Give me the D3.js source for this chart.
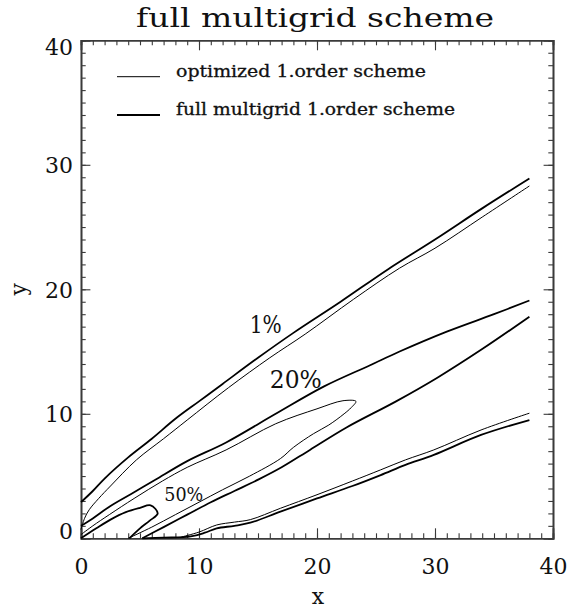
<!DOCTYPE html>
<html>
<head>
<meta charset="utf-8">
<script src="https://cdn.jsdelivr.net/npm/d3@7"></script>
<style>
  html, body { margin: 0; padding: 0; background: #fff; }
  svg { display: block; }
  text { font-family: "DejaVu Serif", "Liberation Serif", serif; fill: #111; }
</style>
</head>
<body>
<svg id="chart" width="568" height="615"></svg>
<script>
// Axis ticks
const xTickValues = [0, 10, 20, 30, 40];
const yTickValues = [0, 10, 20, 30, 40];
const minorTickValues = d3.range(0, 41, 1);

// Legend entries (thin = optimized, thick = full multigrid)
const legendLabels = ["optimized 1.order scheme", "full multigrid 1.order scheme"];

// Contour level labels: [text, x, y]
const levelLabels = [["1%", 14.3, 16.5], ["20%", 16.0, 12.05], ["50%", 7.06, 3.02]];

// Optimized 1.order scheme contours (thin lines)
const optUpper1 = [[0,0.7],[0.3,1.6],[0.7,2.3],[1.5,3.2],[2.5,4.2],[4.7,6.3],[7,8.0],[9,9.5],[12.5,12.1],[16,14.5],[19,16.4],[23.1,19.2],[27,21.7],[30,23.3],[34,25.8],[38,28.3]];
const optLower1 = [[8.5,0.1],[10,0.5],[11.5,1.07],[13,1.3],[14.35,1.5],[16.9,2.41],[20,3.5],[23,4.6],[25.4,5.5],[27.5,6.3],[29.9,7.1],[33.9,8.7],[38,10.05]];
const optLoop20 = [[0,0.3],[1,1.0],[2.4,1.9],[4.5,3.2],[6.9,4.6],[9,5.7],[12.3,7.1],[16.5,9.2],[20,10.4],[22.2,11.05],[23.3,11.0],[22.9,10.5],[22.3,10.0],[21,9.1],[19.7,8.4],[18,7.3],[16.9,6.4],[14.3,5.0],[12,3.9],[10,2.9],[8,1.9],[6,0.9],[4,0]];

// Full multigrid 1.order scheme contours (thick lines)
const fmgUpper1 = [[0,2.9],[1,3.8],[2,4.8],[4,6.5],[6,8.0],[8,9.6],[10,11.0],[12,12.4],[15,14.5],[18,16.5],[22,19.0],[26,21.6],[30,24.0],[34,26.5],[38,28.9]];
const fmgLower1 = [[5.2,0],[7,0.05],[9.3,0.15],[10.5,0.45],[11.5,0.8],[13,1.0],[14.35,1.25],[16.9,2.14],[20,3.2],[23,4.2],[25.4,5.08],[27.5,5.9],[29.9,6.7],[33.9,8.3],[38,9.5]];
const fmgUpper20 = [[0,1.0],[1,1.6],[2.5,2.6],[4.5,3.7],[6.3,4.7],[9,6.2],[12.3,7.7],[16.5,10.0],[20.6,12.2],[24.5,13.9],[27,15.0],[31,16.6],[35,18.0],[38,19.1]];
const fmgLower20 = [[5.2,0],[7,0.9],[9,1.9],[11,2.9],[13,3.8],[15.1,4.75],[17,5.7],[19.4,7.1],[22.5,8.9],[26.7,11.0],[30.2,12.9],[34,15.2],[38,17.8]];
const fmgLoop50 = [[0,0],[1.3,0.8],[2.5,1.5],[3.8,2.1],[5,2.45],[5.9,2.65],[6.5,2.0],[5.8,1.4],[5,0.8],[4.1,0]];

const optCurves = [optUpper1, optLower1, optLoop20];
const fmgCurves = [fmgUpper1, fmgLower1, fmgUpper20, fmgLower20, fmgLoop50];

const svg = d3.select("#chart");
const plotLeft = 81, plotRight = 553, plotTop = 40.3, plotBottom = 538.3;
const x = d3.scaleLinear().domain([0, 40]).range([plotLeft, plotRight]);
const y = d3.scaleLinear().domain([0, 40]).range([plotBottom, plotTop]);

const axisColor = "#3a3a3a";

// Title
svg.append("text")
  .attr("x", (plotLeft + plotRight) / 2 - 2)
  .attr("y", 26.7)
  .attr("text-anchor", "middle")
  .attr("font-size", 26)
  .attr("textLength", 358)
  .attr("lengthAdjust", "spacingAndGlyphs")
  .text("full multigrid scheme");

// Axes: major + minor ticks pointing inward on all four sides
function styleAxis(g) {
  g.select(".domain").attr("stroke", axisColor).attr("stroke-width", 1.6);
  g.selectAll(".tick line").attr("stroke", axisColor).attr("stroke-width", 1.1);
}

const gx = svg.append("g").attr("transform", `translate(0,${plotBottom})`)
  .call(d3.axisBottom(x).tickValues(xTickValues).tickSize(-10).tickPadding(20).tickFormat(d3.format("d")));
svg.append("g").attr("transform", `translate(0,${plotBottom})`)
  .call(d3.axisBottom(x).tickValues(minorTickValues).tickSize(-5).tickFormat("")).call(styleAxis);
svg.append("g").attr("transform", `translate(0,${plotTop})`)
  .call(d3.axisTop(x).tickValues(xTickValues).tickSize(-10).tickFormat("")).call(styleAxis);
svg.append("g").attr("transform", `translate(0,${plotTop})`)
  .call(d3.axisTop(x).tickValues(minorTickValues).tickSize(-5).tickFormat("")).call(styleAxis);

const gy = svg.append("g").attr("transform", `translate(${plotLeft},0)`)
  .call(d3.axisLeft(y).tickValues(yTickValues).tickSize(-9.4).tickPadding(8).tickFormat(d3.format("d")));
svg.append("g").attr("transform", `translate(${plotLeft},0)`)
  .call(d3.axisLeft(y).tickValues(minorTickValues).tickSize(-4.7).tickFormat("")).call(styleAxis);
svg.append("g").attr("transform", `translate(${plotRight},0)`)
  .call(d3.axisRight(y).tickValues(yTickValues).tickSize(-9.4).tickFormat("")).call(styleAxis);
svg.append("g").attr("transform", `translate(${plotRight},0)`)
  .call(d3.axisRight(y).tickValues(minorTickValues).tickSize(-4.7).tickFormat("")).call(styleAxis);

[gx, gy].forEach(g => {
  styleAxis(g);
  g.selectAll(".tick text")
    .attr("font-family", "DejaVu Serif, serif")
    .attr("font-size", 22)
    .attr("fill", "#111");
});
// keep the end labels of the y axis inside the frame
gy.selectAll(".tick text").attr("dy", d => d === 0 ? "0.0em" : d === 40 ? "0.65em" : "0.36em");

// Axis titles
svg.append("text")
  .attr("x", (plotLeft + plotRight) / 2 + 1)
  .attr("y", 604)
  .attr("text-anchor", "middle")
  .attr("font-size", 22)
  .text("x");
svg.append("text")
  .attr("transform", `translate(26,${(plotTop + plotBottom) / 2}) rotate(-90)`)
  .attr("text-anchor", "middle")
  .attr("font-size", 22)
  .text("y");

// Contours
const line = d3.line().x(d => x(d[0])).y(d => y(d[1])).curve(d3.curveCatmullRom.alpha(0.5));
const plot = svg.append("g").attr("fill", "none").attr("stroke", "#000").attr("stroke-linejoin", "round");
plot.selectAll("path.opt").data(optCurves).join("path")
  .attr("class", "opt").attr("d", line).attr("stroke-width", 1.0);
plot.selectAll("path.fmg").data(fmgCurves).join("path")
  .attr("class", "fmg").attr("d", line).attr("stroke-width", 1.8);

// Contour level labels
const labelSizes = { "1%": [25, 32], "20%": [25, 52], "50%": [19, 39] };
svg.selectAll("text.level").data(levelLabels).join("text")
  .attr("class", "level")
  .attr("x", d => x(d[1]))
  .attr("y", d => y(d[2]))
  .attr("font-size", d => labelSizes[d[0]][0])
  .attr("textLength", d => labelSizes[d[0]][1])
  .attr("lengthAdjust", "spacingAndGlyphs")
  .text(d => d[0]);

// Legend
const legendY = [76.7, 115];
const legendWidths = [250, 279];
const legendStroke = [1.0, 1.8];
const lg = svg.append("g");
legendLabels.forEach((label, i) => {
  lg.append("line")
    .attr("x1", 117).attr("x2", 160)
    .attr("y1", legendY[i]).attr("y2", legendY[i])
    .attr("stroke", "#000").attr("stroke-width", legendStroke[i]);
  lg.append("text")
    .attr("x", 176).attr("y", legendY[i])
    .attr("font-size", 16.5)
    .attr("stroke", "#111").attr("stroke-width", 0.3)
    .attr("textLength", legendWidths[i])
    .attr("lengthAdjust", "spacingAndGlyphs")
    .text(label);
});
</script>
</body>
</html>
